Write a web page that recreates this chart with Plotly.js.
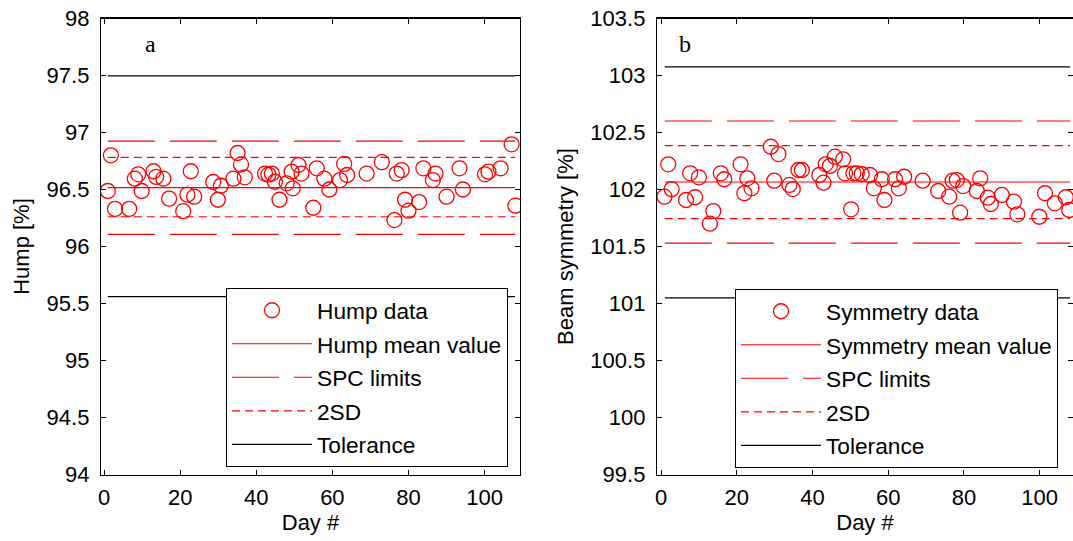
<!DOCTYPE html>
<html>
<head>
<meta charset="utf-8">
<script src="https://cdn.plot.ly/plotly-3.0.1.min.js"></script>
<style>html,body{margin:0;padding:0;background:#fff;}#chart{width:1073px;height:541px;}</style>
</head>
<body>
<div id="chart"></div>
<script>
// ---- Panel a: Hump ----
const humpDays = [1.0, 1.8, 2.9, 6.6, 8.1, 9.0, 9.9, 13.0, 13.7, 15.6, 17.1, 20.8, 21.9, 22.8, 23.7, 28.7, 29.9, 30.7, 34.0, 35.1, 36.0, 37.0, 42.3, 43.2, 44.1, 44.9, 46.1, 48.0, 49.3, 49.6, 51.1, 51.9, 55.0, 55.9, 57.9, 59.2, 62.0, 63.1, 63.9, 69.0, 73.0, 76.3, 76.9, 78.2, 79.1, 80.0, 82.8, 83.9, 86.4, 87.1, 90.0, 93.4, 94.3, 100.1, 101.0, 104.2, 107.1, 108.1];
const humpValues = [96.487, 96.80, 96.33, 96.33, 96.595, 96.633, 96.487, 96.66, 96.61, 96.595, 96.42, 96.31, 96.455, 96.66, 96.437, 96.566, 96.41, 96.533, 96.595, 96.82, 96.72, 96.607, 96.64, 96.63, 96.64, 96.568, 96.41, 96.554, 96.656, 96.51, 96.715, 96.64, 96.34, 96.686, 96.595, 96.50, 96.583, 96.724, 96.627, 96.64, 96.74, 96.232, 96.64, 96.67, 96.41, 96.314, 96.39, 96.686, 96.583, 96.64, 96.437, 96.686, 96.50, 96.633, 96.656, 96.686, 96.896, 96.358];
const humpMean = [96.516];
const humpSPC = [96.107, 96.925];
const hump2SD = [96.261, 96.782];
const humpTol = [95.561, 97.496];

// ---- Panel b: Beam symmetry ----
const symDays = [0.9, 2.8, 1.9, 6.6, 7.7, 9.0, 10.0, 13.8, 12.9, 15.8, 16.7, 21.0, 22.8, 22.0, 23.9, 29.0, 31.0, 29.9, 33.9, 34.8, 36.3, 37.2, 41.8, 42.9, 43.5, 44.6, 45.9, 48.1, 48.6, 50.2, 50.8, 51.7, 53.0, 55.2, 56.2, 58.3, 59.0, 61.8, 62.8, 64.2, 69.1, 73.2, 76.1, 77.0, 78.1, 79.0, 79.8, 83.4, 84.3, 86.3, 87.1, 90.0, 93.2, 94.1, 99.9, 101.4, 104.0, 106.9, 107.8];
const symValues = [101.937, 102.002, 102.221, 101.908, 102.142, 101.932, 102.107, 101.811, 101.70, 102.142, 102.09, 102.221, 102.098, 101.967, 102.01, 102.375, 102.311, 102.077, 102.04, 102.004, 102.171, 102.171, 102.127, 102.06, 102.221, 102.206, 102.288, 102.265, 102.142, 101.826, 102.142, 102.142, 102.136, 102.127, 102.01, 102.09, 101.908, 102.09, 102.01, 102.112, 102.077, 101.987, 101.937, 102.077, 102.083, 101.797, 102.03, 101.987, 102.098, 101.928, 101.873, 101.952, 101.893, 101.782, 101.761, 101.967, 101.879, 101.932, 101.82];
const symMean = [102.066];
const symSPC = [101.530, 102.601];
const sym2SD = [101.745, 102.384];
const symTol = [101.050, 103.075];

const lineDays = [1, 108];
const xTicks = [0, 20, 40, 60, 80, 100];
const humpTicks = [94, 94.5, 95, 95.5, 96, 96.5, 97, 97.5, 98];
const symTicks = [99.5, 100, 100.5, 101, 101.5, 102, 102.5, 103, 103.5];

const RED = '#ff0000';
const FONT = 'Liberation Sans, Arial, Helvetica, sans-serif';

function pair(vals) {
  return {
    x: [lineDays[0], lineDays[1], null, lineDays[0], lineDays[1]],
    y: [vals[0], vals[0], null, vals[1], vals[1]]
  };
}
function single(v) { return { x: lineDays.slice(), y: [v[0], v[0]] }; }

function panelTraces(days, vals, mean, spc, sd2, tol, name, xa, ya, leg) {
  const s = pair(spc), d = pair(sd2), t = pair(tol), m = single(mean);
  return [
    { x: days, y: vals, type: 'scatter', mode: 'markers', name: name + ' data', xaxis: xa, yaxis: ya, legend: leg, legendgroup: leg + 'a',
      marker: { symbol: 'circle-open', size: 15, color: RED, line: { color: RED, width: 1.3 } } },
    { x: m.x, y: m.y, type: 'scatter', mode: 'lines', name: name + ' mean value', xaxis: xa, yaxis: ya, legend: leg, legendgroup: leg + 'b',
      line: { color: RED, width: 1.2 } },
    { x: s.x, y: s.y, type: 'scatter', mode: 'lines', name: 'SPC limits', xaxis: xa, yaxis: ya, legend: leg, legendgroup: leg + 'c',
      line: { color: RED, width: 1.2, dash: '47px,15px' } },
    { x: d.x, y: d.y, type: 'scatter', mode: 'lines', name: '2SD', xaxis: xa, yaxis: ya, legend: leg, legendgroup: leg + 'd',
      line: { color: RED, width: 1.2, dash: '8px,5px' } },
    { x: t.x, y: t.y, type: 'scatter', mode: 'lines', name: 'Tolerance', xaxis: xa, yaxis: ya, legend: leg, legendgroup: leg + 'e',
      line: { color: '#000000', width: 1.2 } }
  ];
}

const data = [].concat(
  panelTraces(humpDays, humpValues, humpMean, humpSPC, hump2SD, humpTol, 'Hump', 'x', 'y', 'legend'),
  panelTraces(symDays, symValues, symMean, symSPC, sym2SD, symTol, 'Symmetry', 'x2', 'y2', 'legend2')
);

const W = 1073, H = 541;
const yDom = [(H - 474.5) / H, (H - 18.5) / H];

function xAxis(dom, range) {
  return {
    domain: dom, range: range, tickvals: xTicks, ticktext: xTicks.map(String),
    ticks: 'inside', ticklen: 5, tickwidth: 1, tickcolor: '#000', mirror: 'ticks',
    showline: true, linecolor: '#000', linewidth: 1.2, showgrid: false, zeroline: false,
    tickfont: { family: FONT, size: 22, color: '#000' }, ticklabelstandoff: 3,
    title: { text: 'Day #', font: { family: FONT, size: 22, color: '#000' }, standoff: 4 },
    automargin: false, fixedrange: true
  };
}
function yAxis(ticks, range, title, anchor) {
  return {
    domain: yDom, range: range, anchor: anchor, tickvals: ticks, ticktext: ticks.map(String),
    ticks: 'inside', ticklen: 5, tickwidth: 1, tickcolor: '#000', mirror: 'ticks',
    showline: true, linecolor: '#000', linewidth: 1.2, showgrid: false, zeroline: false,
    tickfont: { family: FONT, size: 22, color: '#000' }, ticklabelstandoff: 6,
    title: { text: title, font: { family: FONT, size: 22, color: '#000' }, standoff: 10 },
    automargin: false, fixedrange: true
  };
}

function legendCfg(x, y) {
  return {
    x: x, y: y, xanchor: 'left', yanchor: 'top', xref: 'paper', yref: 'paper',
    bgcolor: '#ffffff', bordercolor: '#000', borderwidth: 1,
    font: { family: FONT, size: 22.7, color: '#000' }, itemwidth: 80,
    tracegroupgap: 1, traceorder: 'grouped'
  };
}

const layout = {
  width: W, height: H,
  margin: { l: 0, r: 0, t: 0, b: 0 },
  paper_bgcolor: '#fff', plot_bgcolor: '#fff',
  showlegend: true,
  xaxis: Object.assign(xAxis([101 / W, 520 / W], [-0.79, 109.3]), { anchor: 'y' }),
  yaxis: yAxis(humpTicks, [94, 98], 'Hump [%]', 'x'),
  xaxis2: Object.assign(xAxis([657 / W, 1], [-1.06, 108.8]), { anchor: 'y2' }),
  yaxis2: yAxis(symTicks, [99.5, 103.5], 'Beam symmetry [%]', 'x2'),
  legend: legendCfg(226 / W, (H - 288) / H),
  legend2: legendCfg(735 / W, (H - 289) / H),
  annotations: [
    { text: 'a', xref: 'paper', yref: 'paper', x: 150 / W, y: (H - 44) / H, xanchor: 'center', yanchor: 'middle', showarrow: false,
      font: { family: 'Liberation Serif, Times New Roman, serif', size: 24, color: '#000' } },
    { text: 'b', xref: 'paper', yref: 'paper', x: 685 / W, y: (H - 44) / H, xanchor: 'center', yanchor: 'middle', showarrow: false,
      font: { family: 'Liberation Serif, Times New Roman, serif', size: 24, color: '#000' } }
  ]
};

Plotly.newPlot('chart', data, layout, { staticPlot: true, displayModeBar: false });
</script>
</body>
</html>
